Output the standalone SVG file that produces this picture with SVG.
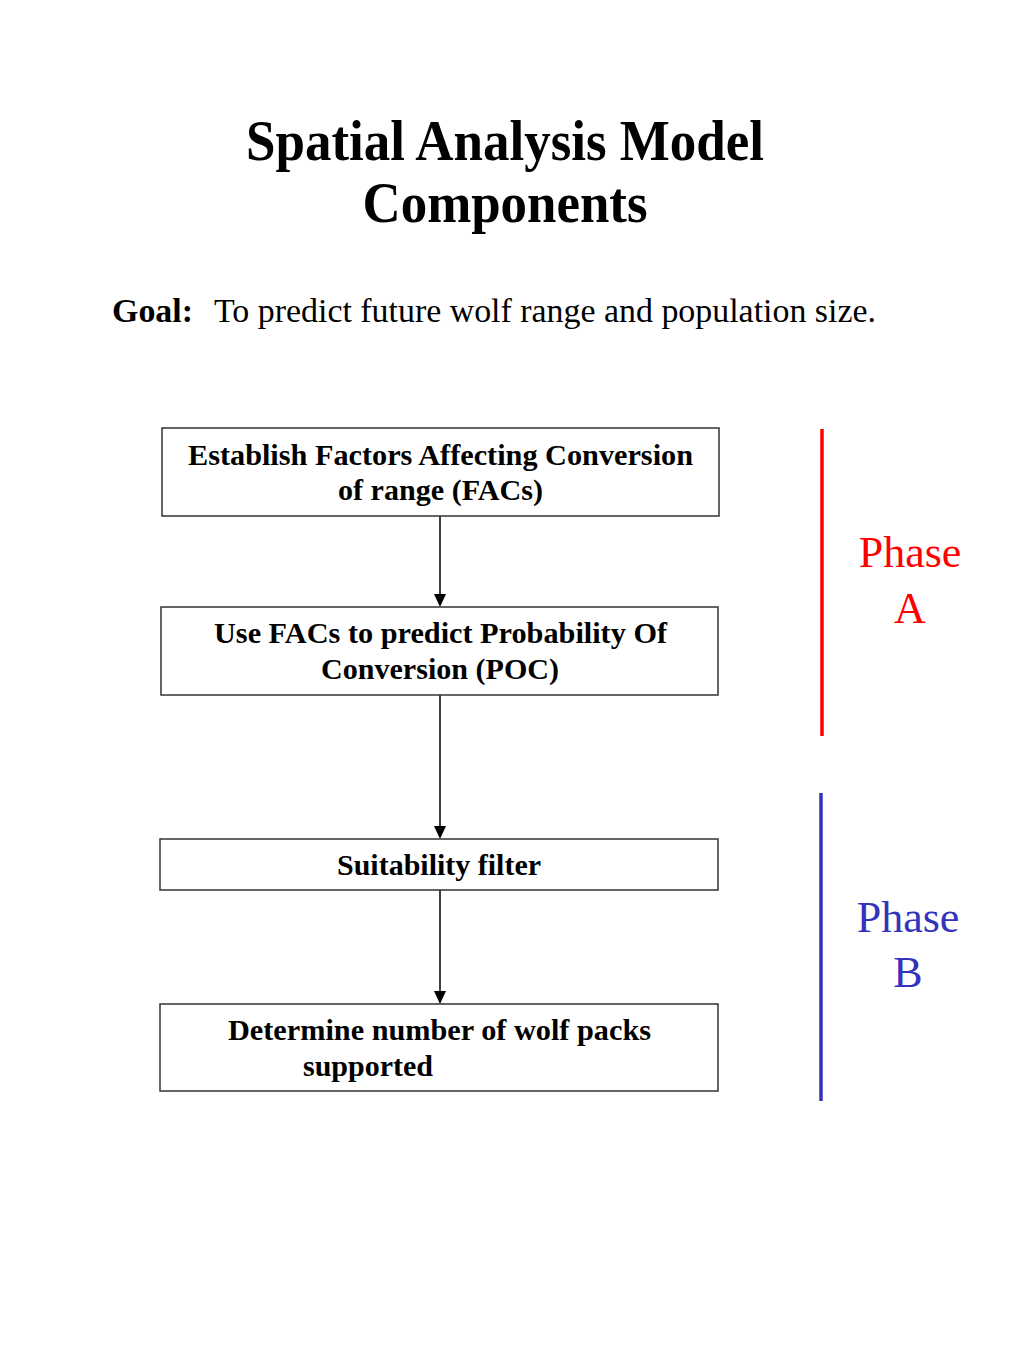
<svg xmlns="http://www.w3.org/2000/svg" width="1024" height="1365" viewBox="0 0 1024 1365">
<style>
.box{fill:#fff;stroke:#333;stroke-width:1.5}
.bt{font-family:"Liberation Serif","Times New Roman",serif;font-weight:bold;font-size:30px;fill:#000}
.title{font-family:"Liberation Serif","Times New Roman",serif;font-weight:bold;font-size:56px;fill:#000;text-anchor:middle}
.goal{font-family:"Liberation Serif","Times New Roman",serif;font-size:33px;fill:#000}
.ph{font-family:"Liberation Serif","Times New Roman",serif;font-size:44px;text-anchor:middle}
.conn{stroke:#000;stroke-width:1.5;fill:none}
.head{fill:#000}
</style>
<rect width="1024" height="1365" fill="#fff"/>
<g id="title">
<text class="title" x="505" y="160" textLength="518" lengthAdjust="spacingAndGlyphs">Spatial Analysis Model</text>
<text class="title" x="505" y="222" textLength="285" lengthAdjust="spacingAndGlyphs">Components</text>
</g>
<g id="goal">
<text class="goal" x="112" y="322" font-weight="bold" textLength="81" lengthAdjust="spacingAndGlyphs">Goal:</text>
<text class="goal" x="214" y="322" textLength="662" lengthAdjust="spacingAndGlyphs">To predict future wolf range and population size.</text>
</g>
<g id="connectors">
<line class="conn" x1="440" y1="516" x2="440" y2="594"/>
<path class="head" d="M434,594 L446,594 L440,607 Z"/>
<line class="conn" x1="440" y1="695" x2="440" y2="826"/>
<path class="head" d="M434,826 L446,826 L440,839 Z"/>
<line class="conn" x1="440" y1="890" x2="440" y2="991"/>
<path class="head" d="M434,991 L446,991 L440,1004 Z"/>
</g>
<g id="node1">
<rect class="box" x="162" y="428" width="557" height="88"/>
<text class="bt" x="188" y="465" textLength="505" lengthAdjust="spacingAndGlyphs">Establish Factors Affecting Conversion</text>
<text class="bt" x="338" y="500" textLength="205" lengthAdjust="spacingAndGlyphs">of range (FACs)</text>
</g>
<g id="node2">
<rect class="box" x="161" y="607" width="557" height="88"/>
<text class="bt" x="214" y="643" textLength="453" lengthAdjust="spacingAndGlyphs">Use FACs to predict Probability Of</text>
<text class="bt" x="321" y="679" textLength="238" lengthAdjust="spacingAndGlyphs">Conversion (POC)</text>
</g>
<g id="node3">
<rect class="box" x="160" y="839" width="558" height="51"/>
<text class="bt" x="337" y="875" textLength="204" lengthAdjust="spacingAndGlyphs">Suitability filter</text>
</g>
<g id="node4">
<rect class="box" x="160" y="1004" width="558" height="87"/>
<text class="bt" x="228" y="1040" textLength="423" lengthAdjust="spacingAndGlyphs">Determine number of wolf packs</text>
<text class="bt" x="303" y="1076" textLength="130" lengthAdjust="spacingAndGlyphs">supported</text>
</g>
<g id="phaseA">
<line x1="822" y1="429" x2="822" y2="736" stroke="#ff0000" stroke-width="3.5"/>
<text class="ph" x="910" y="567" fill="#ff0000">Phase</text>
<text class="ph" x="910" y="623" fill="#ff0000">A</text>
</g>
<g id="phaseB">
<line x1="821" y1="793" x2="821" y2="1101" stroke="#3333bb" stroke-width="3.5"/>
<text class="ph" x="908" y="932" fill="#3333bb">Phase</text>
<text class="ph" x="908" y="987" fill="#3333bb">B</text>
</g>
</svg>
